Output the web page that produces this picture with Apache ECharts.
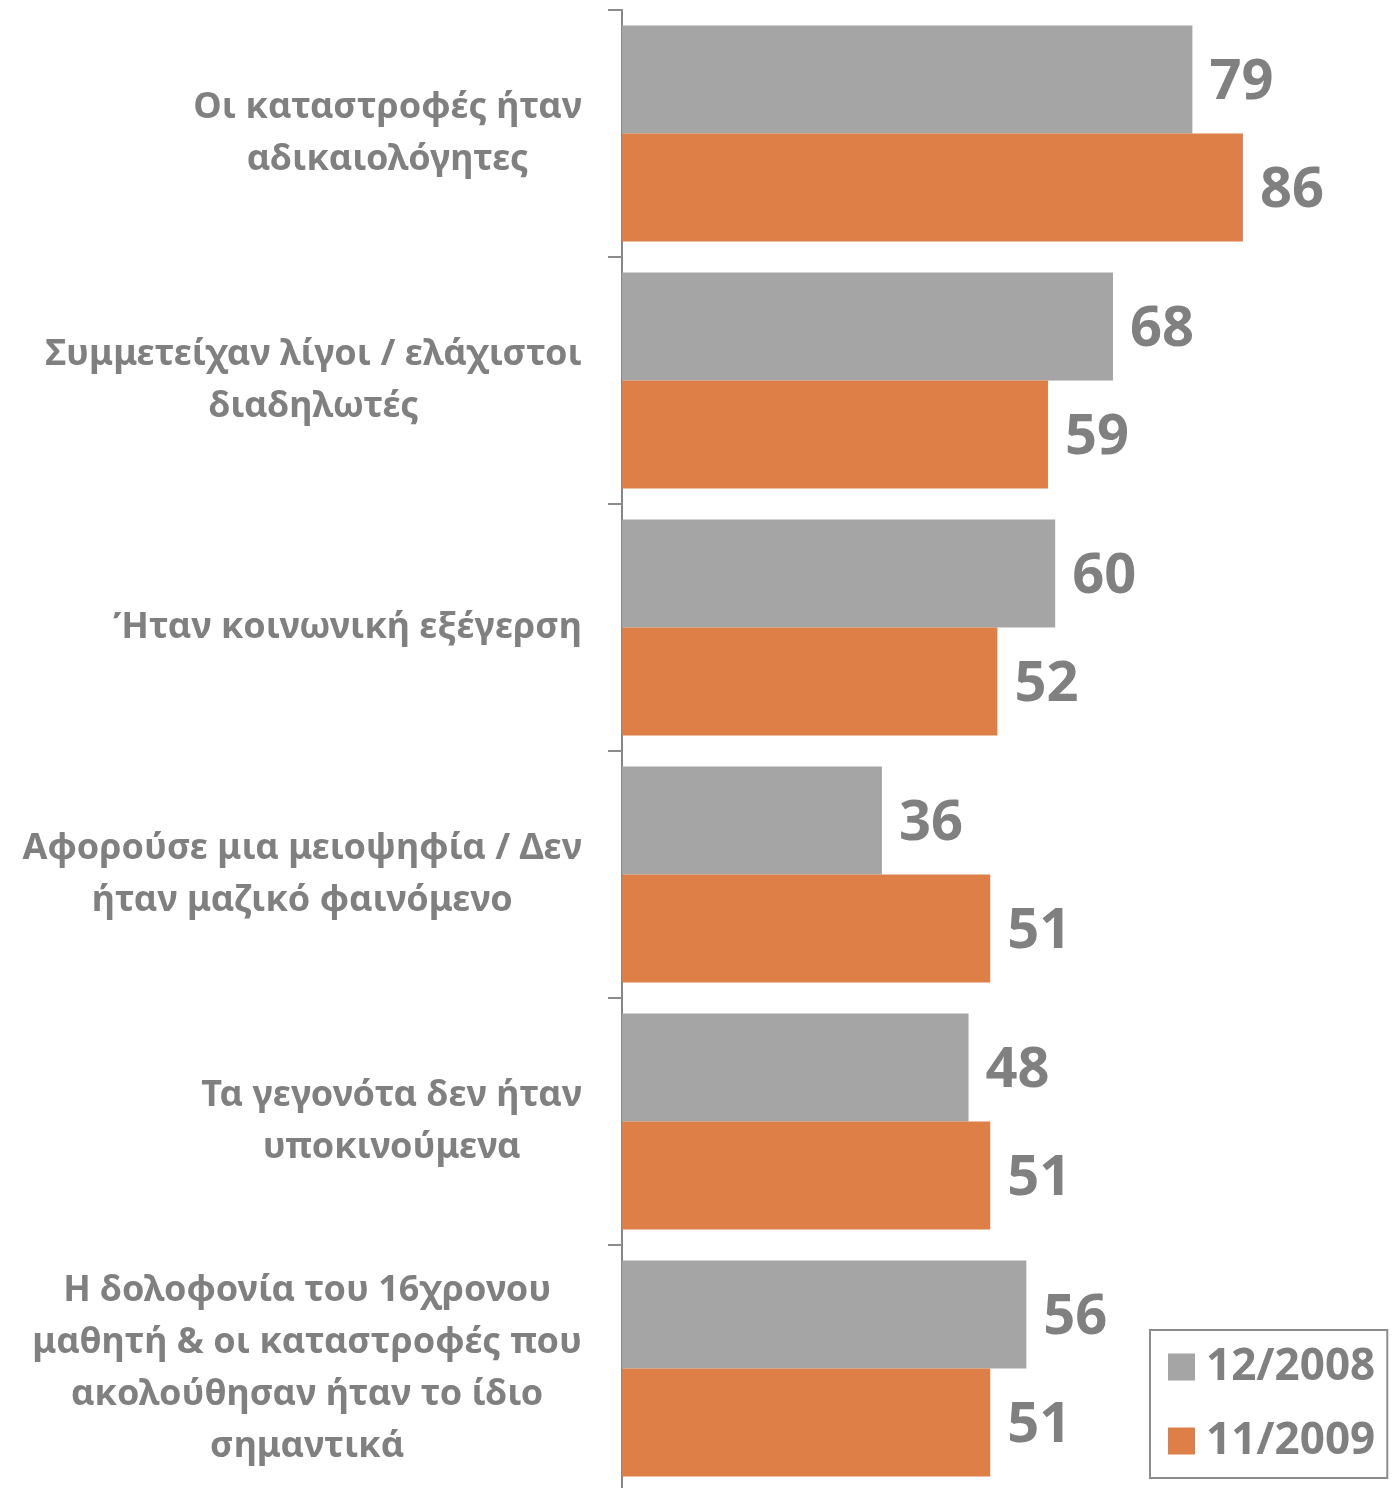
<!DOCTYPE html>
<html lang="el">
<head>
    <meta charset="UTF-8">
    <title>Γεγονότα Δεκεμβρίου</title>
    <style>
        html, body { margin: 0; padding: 0; background: #fff; }
        #main { width: 1393px; height: 1488px; }
    </style>
</head>
<body>
    <div id="main"></div>
    <script src="https://cdn.jsdelivr.net/npm/echarts@6/dist/echarts.min.js"></script>
    <script>
        // κατηγορίες (από πάνω προς τα κάτω)
        const categories = [
            'Οι καταστροφές ήταν\nαδικαιολόγητες',
            'Συμμετείχαν λίγοι / ελάχιστοι\nδιαδηλωτές',
            'Ήταν κοινωνική εξέγερση',
            'Αφορούσε μια μειοψηφία / Δεν\nήταν μαζικό φαινόμενο',
            'Τα γεγονότα δεν ήταν\nυποκινούμενα',
            'Η δολοφονία του 16χρονου\nμαθητή & οι καταστροφές που\nακολούθησαν ήταν το ίδιο\nσημαντικά'
        ];
        const seriesNames = ['12/2008', '11/2009'];
        const values2008 = [79, 68, 60, 36, 48, 56];
        const values2009 = [86, 59, 52, 51, 51, 51];

        const FONT = '"Noto Sans", sans-serif';
        const TEXT_GRAY = '#808080';

        const myChart = echarts.init(document.getElementById('main'));

        const valueLabel = {
            show: true,
            position: 'right',
            distance: 17,
            offset: [0, 4],
            fontFamily: FONT,
            fontSize: 56,
            fontWeight: 'bold',
            color: TEXT_GRAY
        };

        myChart.setOption({
            animation: false,
            legend: {
                orient: 'vertical',
                left: 1150,
                top: 1330,
                padding: [15, 12, 15, 18],
                itemWidth: 27,
                itemHeight: 27,
                itemGap: 30,
                borderColor: '#8c8c8c',
                borderWidth: 2,
                icon: 'rect',
                textStyle: {
                    fontFamily: FONT,
                    fontSize: 44,
                    fontWeight: 'bold',
                    color: TEXT_GRAY,
                    padding: [0, 0, 0, 6]
                },
                data: seriesNames
            },
            grid: {
                left: 622,
                top: 10,
                width: 722,
                height: 1482,
                containLabel: false,
                outerBoundsMode: 'none'
            },
            xAxis: {
                type: 'value',
                min: 0,
                max: 100,
                show: false,
                splitLine: { show: false }
            },
            yAxis: {
                type: 'category',
                inverse: true,
                data: categories,
                axisLine: { show: true, lineStyle: { color: '#868686', width: 2 } },
                axisTick: { show: true, alignWithLabel: false, length: 14, lineStyle: { color: '#8c8c8c', width: 2 } },
                axisLabel: {
                    margin: 40,
                    align: 'right',
                    formatter: function (v) {
                        // κάθε γραμμή κεντραρισμένη μέσα στο μπλοκ
                        return v.split('\n').map(function (l) { return '{c|' + l + '}'; }).join('\n');
                    },
                    rich: {
                        c: {
                            align: 'center',
                            fontFamily: FONT,
                            fontSize: 36,
                            fontWeight: 'bold',
                            lineHeight: 52,
                            color: TEXT_GRAY
                        }
                    }
                }
            },
            series: [
                {
                    name: seriesNames[0],
                    type: 'bar',
                    data: values2008,
                    barWidth: 108,
                    barGap: '0%',
                    itemStyle: { color: '#A5A5A5' },
                    label: valueLabel
                },
                {
                    name: seriesNames[1],
                    type: 'bar',
                    data: values2009,
                    barWidth: 108,
                    barGap: '0%',
                    itemStyle: { color: '#DE7F47' },
                    label: valueLabel
                }
            ]
        });
    </script>
</body>
</html>
